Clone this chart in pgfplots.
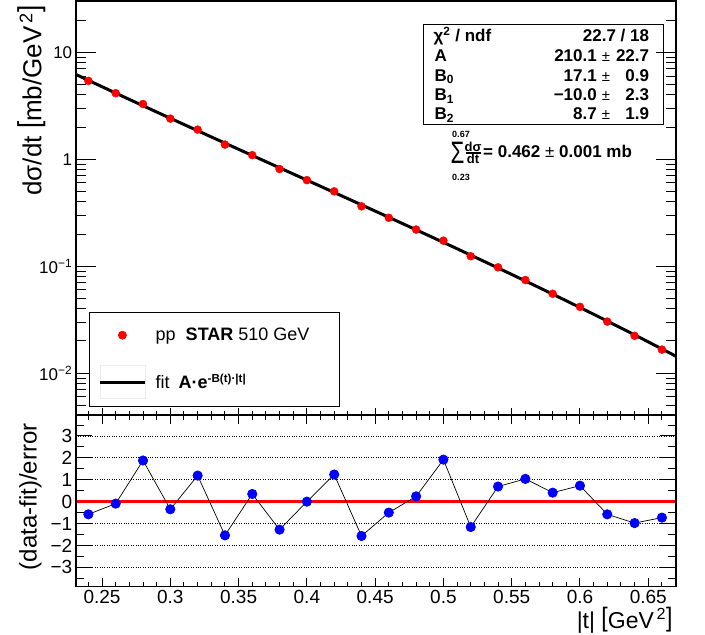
\documentclass[border=0pt]{standalone}
\usepackage{fontspec}
\setmainfont{Liberation Sans}
\usepackage{graphicx}
\usepackage{pgfplots}
\pgfplotsset{compat=1.18}

% tall thin brackets as in ROOT's #left[ #right]
\newcommand{\lbr}{\raisebox{0.09em}{\scalebox{1}[1.16]{[}}}
\newcommand{\rbr}{\raisebox{0.09em}{\scalebox{1}[1.16]{]}}}

\pgfplotsset{
  rootframe/.style={
    scale only axis, width=600pt, anchor=south west,
    xmin=0.2307, xmax=0.6701,
    tick align=inside,
    axis line style={line width=1.6pt},
    tick style={line width=1pt, black},
  },
  tmajor/.style={xtick={0.25,0.3,0.35,0.4,0.45,0.5,0.55,0.6,0.65}},
  tminor/.style={minor xtick={0.24,0.26,0.27,0.28,0.29,0.31,0.32,0.33,0.34,0.36,0.37,0.38,0.39,0.41,0.42,0.43,0.44,0.46,0.47,0.48,0.49,0.51,0.52,0.53,0.54,0.56,0.57,0.58,0.59,0.61,0.62,0.63,0.64,0.66,0.67}},
  dotleg/.style={legend image code/.code={%
    \draw[only marks, mark=*, mark size=4pt, red, mark repeat=2, mark phase=2]
      plot coordinates {(0pt,0pt) (22.5pt,0pt) (45pt,0pt)};}},
  lineleg/.style={legend image code/.code={%
    \draw[overlay, black!8, line width=0.8pt] (0pt,-16.5pt) rectangle (45pt,16.5pt);
    \draw[black, line width=3pt] (0pt,0pt) -- (45pt,0pt);}},
}

\begin{document}
\begin{tikzpicture}
\path[use as bounding box] (0pt,0pt) rectangle (705pt,635pt);

% ---- upper pad: dsigma/dt with fit
\begin{axis}[rootframe, at={(75.7pt,220pt)}, height=414pt,
  ymode=log, ymin=0.00406, ymax=30.2,
  xtick=\empty,
  ytick={0.01,0.1,1,10},
  yticklabels={10\textsuperscript{−2},10\textsuperscript{−1},1,10},
  minor ytick={0.005,0.006,0.007,0.008,0.009,0.02,0.03,0.04,0.05,0.06,0.07,0.08,0.09,0.2,0.3,0.4,0.5,0.6,0.7,0.8,0.9,2,3,4,5,6,7,8,9,20},
  major tick length=20pt, minor tick length=10pt,
  yticklabel style={font=\fontsize{17}{17}\selectfont},
  ylabel={dσ/dt \lbr mb/GeV\hspace{0.12em}\textsuperscript{2}\rbr},
  ylabel style={font=\fontsize{26}{26}\selectfont, at={(axis description cs:-0.0978,0.99)}, anchor=north east, inner sep=0pt},
  legend style={at={(axis description cs:0.0227,0.0200)}, anchor=south west,
    draw=black, line width=0.8pt, fill=white,
    inner xsep=8.7pt, inner ysep=15.9pt,
    row sep=31.6pt, column sep=9.3pt,
    nodes={inner sep=0pt},
    font=\fontsize{18}{18}\selectfont},
  legend cell align=left,
]
\addplot[only marks, mark=*, mark size=4pt, color=red, dotleg]
  coordinates {
  (0.24,5.407) (0.26,4.150) (0.28,3.285) (0.30,2.400) (0.32,1.893) (0.34,1.372)
  (0.36,1.093) (0.38,0.8108) (0.40,0.6381) (0.42,0.5013) (0.44,0.3630) (0.46,0.2838)
  (0.48,0.2201) (0.50,0.1734) (0.52,0.1240) (0.54,0.09763) (0.56,0.07429) (0.58,0.05526)
  (0.60,0.04171) (0.62,0.03033) (0.64,0.02235) (0.66,0.01660)
  };
\addlegendentry{pp\hspace{5pt} \textbf{STAR} 510 GeV\hspace*{21pt}}
\addplot[black, line width=3pt, no marks, lineleg]
  coordinates {
  (0.23,6.282) (0.25,4.767) (0.27,3.627) (0.29,2.766) (0.31,2.114) (0.33,1.6175)
  (0.35,1.2394) (0.37,0.9502) (0.39,0.7287) (0.41,0.5588) (0.43,0.4282) (0.45,0.3278)
  (0.47,0.2506) (0.49,0.1913) (0.51,0.14566) (0.53,0.11061) (0.55,0.08374) (0.57,0.06319)
  (0.59,0.04748) (0.61,0.03554) (0.63,0.02647) (0.65,0.01961) (0.67,0.01445)
  };
\addlegendentry{fit\hspace{4pt} \textbf{A·e}\raisebox{6.7pt}{\fontsize{11.6}{11.6}\selectfont\bfseries -B(t)·|t|}}
\end{axis}

% upper pad x ticks (shorter, no labels)
\begin{axis}[rootframe, at={(75.7pt,220pt)}, height=414pt,
  ymin=0, ymax=1, ytick=\empty, tmajor, tminor, xticklabels={,,,,,,,,},
  xtick pos=left, major tick length=7pt, minor tick length=4pt]
\end{axis}

% ---- lower pad: residuals
\begin{axis}[rootframe, at={(75.7pt,48.3pt)}, height=171.4pt,
  ymin=-3.887, ymax=3.946,
  xtick=\empty,
  ytick={-3,-2,-1,0,1,2,3}, yticklabels={−3,−2,−1,0,1,2,3},
  minor ytick={-3.5,-2.5,-1.5,-0.5,0.5,1.5,2.5,3.5},
  major tick length=16pt, minor tick length=8pt,
  ymajorgrids, grid style={black, dotted, line width=0.8pt},
  yticklabel style={font=\fontsize{19}{19}\selectfont},
  ylabel={(data-fit)/error},
  ylabel style={font=\fontsize{24}{24}\selectfont, at={(axis description cs:-0.0945,0.953)}, anchor=north east, inner sep=0pt},
]
\addplot[red, line width=3pt] coordinates {(0.2307,0) (0.6701,0)};
\addplot[black, line width=0.7pt, mark=*, mark size=4.7pt, mark options={draw=blue, fill=blue}]
  coordinates {
  (0.24,-0.58) (0.26,-0.09) (0.28,1.88) (0.30,-0.35) (0.32,1.19) (0.34,-1.54)
  (0.36,0.35) (0.38,-1.28) (0.40,0.00) (0.42,1.24) (0.44,-1.57) (0.46,-0.50)
  (0.48,0.24) (0.50,1.92) (0.52,-1.16) (0.54,0.69) (0.56,1.04) (0.58,0.41)
  (0.60,0.73) (0.62,-0.58) (0.64,-0.98) (0.66,-0.73)
  };
\end{axis}

% lower pad x ticks and labels
\begin{axis}[rootframe, at={(75.7pt,48.3pt)}, height=171.4pt,
  ymin=0, ymax=1, ytick=\empty, tmajor, tminor,
  xticklabels={0.25,0.3,0.35,0.4,0.45,0.5,0.55,0.6,0.65},
  major tick length=9pt, minor tick length=4.5pt,
  xticklabel style={font=\fontsize{19}{19}\selectfont},
  xlabel={|t| \lbr GeV\hspace{0.12em}\textsuperscript{2}\rbr},
  xlabel style={font=\fontsize{23}{23}\selectfont, at={(axis description cs:0.995,-0.1167)}, anchor=north east, inner sep=0pt},
]
\end{axis}

% ---- fit statistics box
\draw[line width=0.8pt] (423.3pt,510.9pt) rectangle (663.3pt,610.5pt);
\begin{scope}[font=\fontsize{17}{17}\selectfont\bfseries, inner sep=0pt]
\node[anchor=base west] at (433.5pt,593.3pt) {χ\textsuperscript{2} / ndf};
\node[anchor=base east] at (649.3pt,593.3pt) {22.7 / 18};
\node[anchor=base west] at (434.5pt,573.8pt) {A};
\node[anchor=base east] at (597pt,573.8pt) {210.1};
\node[anchor=base, font=\fontsize{15}{15}\selectfont\mdseries] at (606pt,573.8pt) {±};
\node[anchor=base east] at (649.3pt,573.8pt) {22.7};
\node[anchor=base west] at (434.5pt,553.8pt) {B\textsubscript{0}};
\node[anchor=base east] at (597pt,553.8pt) {17.1};
\node[anchor=base, font=\fontsize{15}{15}\selectfont\mdseries] at (606pt,553.8pt) {±};
\node[anchor=base east] at (649.3pt,553.8pt) {0.9};
\node[anchor=base west] at (434.5pt,534.3pt) {B\textsubscript{1}};
\node[anchor=base east] at (597pt,534.3pt) {−10.0};
\node[anchor=base, font=\fontsize{15}{15}\selectfont\mdseries] at (606pt,534.3pt) {±};
\node[anchor=base east] at (649.3pt,534.3pt) {2.3};
\node[anchor=base west] at (434.5pt,515.3pt) {B\textsubscript{2}};
\node[anchor=base east] at (597pt,515.3pt) {8.7};
\node[anchor=base, font=\fontsize{15}{15}\selectfont\mdseries] at (606pt,515.3pt) {±};
\node[anchor=base east] at (649.3pt,515.3pt) {1.9};
% integrated cross section
\node[anchor=base, text height=22.2pt, text depth=0pt, font=\fontsize{31}{31}\selectfont\mdseries] at (457.5pt,471pt) {\scalebox{0.72}[1]{Σ}};
\node[font=\fontsize{9}{9}\selectfont\bfseries] at (461pt,501pt) {0.67};
\node[font=\fontsize{9}{9}\selectfont\bfseries] at (461pt,458pt) {0.23};
\node[font=\fontsize{13}{13}\selectfont\bfseries] at (473pt,488pt) {dσ};
\draw[line width=1.2pt] (465.5pt,482pt) -- (480.5pt,482pt);
\node[font=\fontsize{13}{13}\selectfont\bfseries] at (473pt,476pt) {dt};
\node[anchor=base west] at (483pt,477.3pt) {= 0.462 {\mdseries ±} 0.001 mb};
\end{scope}
\end{tikzpicture}
\end{document}
